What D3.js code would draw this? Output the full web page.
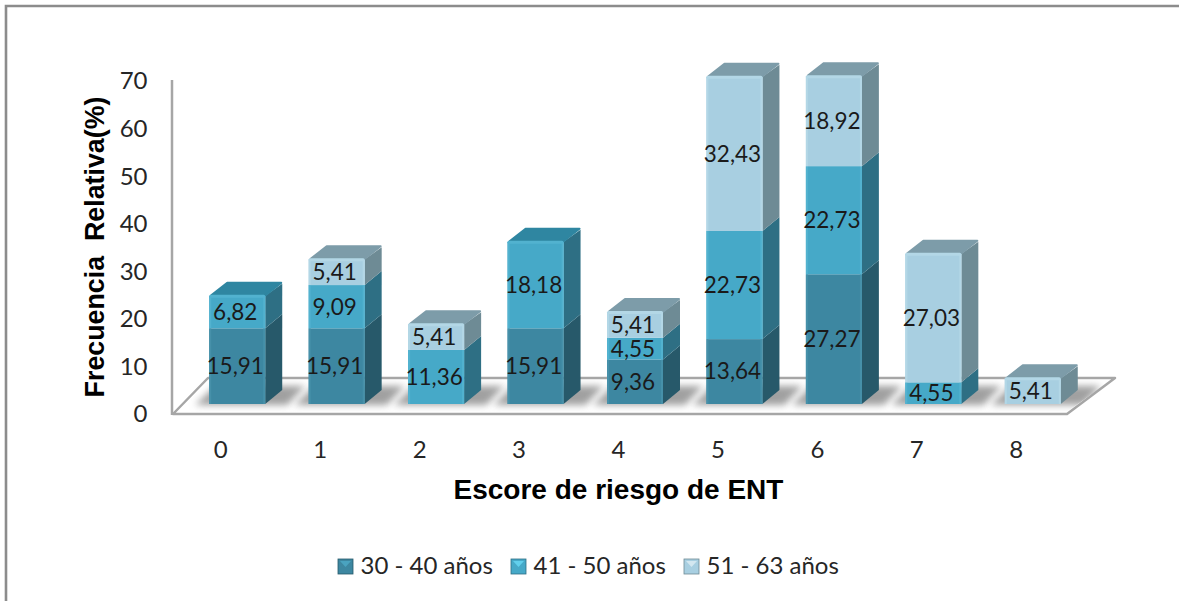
<!DOCTYPE html>
<html>
<head>
<meta charset="utf-8">
<script src="https://cdnjs.cloudflare.com/ajax/libs/d3/7.8.5/d3.min.js"></script>
<style>
html, body { margin: 0; padding: 0; background: #fff; overflow: hidden; }
svg { display: block; }
</style>
</head>
<body>
<svg id="chart" width="1179" height="601"></svg>
<script>
const categories = ['0', '1', '2', '3', '4', '5', '6', '7', '8'];
const yTicks = [0, 10, 20, 30, 40, 50, 60, 70];
const seriesNames = ['30 - 40 años', '41 - 50 años', '51 - 63 años'];
const group30 = [15.91, 15.91, 0, 15.91, 9.36, 13.64, 27.27, 0, 0];
const group41 = [6.82, 9.09, 11.36, 18.18, 4.55, 22.73, 22.73, 4.55, 0];
const group51 = [0, 5.41, 5.41, 0, 5.41, 32.43, 18.92, 27.03, 5.41];

const rows = categories.map((c, i) => ({
    cat: c,
    [seriesNames[0]]: group30[i],
    [seriesNames[1]]: group41[i],
    [seriesNames[2]]: group51[i]
}));

const colors = [
    { front: '#3d87a1', side: '#27596a', top: '#2f7a93', edge: '#4690a9', tri: '#4aa3c0' },
    { front: '#46a9c8', side: '#2e6f84', top: '#2f86a1', edge: '#52b2cf', tri: '#62cfec' },
    { front: '#a8cfe1', side: '#6e8b95', top: '#7d9ca9', edge: '#b3d7e6', tri: '#d3e7f0' }
];

const svg = d3.select('#chart');
const labelFont = 'Lato, sans-serif';
const titleFont = '"Liberation Sans", Arial, sans-serif';

// Front plane of the floor: the axes sit here, the bars stand further back
const x = d3.scaleBand().domain(categories).range([172, 1067]);
const y = d3.scaleLinear().domain([0, 70]).range([414, 81]);

const barWidth = 56, barShift = 15.5, liftY = 10;
const depthX = 17, depthY = 14;

const defs = svg.append('defs');
defs.append('filter').attr('id', 'blur')
    .attr('x', '-30%').attr('width', '160%').attr('y', '-40%').attr('height', '180%')
    .append('feGaussianBlur').attr('stdDeviation', 3.5);

// Outer frame
svg.append('path')
    .attr('d', 'M6,601V6H1179')
    .attr('fill', 'none')
    .attr('stroke', '#8c8c8c')
    .attr('stroke-width', 2.6);

// Floor
svg.append('path')
    .attr('d', 'M173,414L208,378H1115L1067,414Z')
    .attr('fill', '#fff')
    .attr('stroke', '#a6a6a6')
    .attr('stroke-width', 2.5)
    .attr('stroke-linejoin', 'round');

// Vertical axis
svg.append('line')
    .attr('x1', 172).attr('x2', 172)
    .attr('y1', y(70) - 1).attr('y2', y(0) + 1)
    .attr('stroke', '#a6a6a6')
    .attr('stroke-width', 2.5);

const floorClip = defs.append('clipPath').attr('id', 'floor-clip');
floorClip.append('path').attr('d', 'M176,412.5L209,379.5H1112L1066,412.5Z');

// Bar shadows on the floor
svg.append('g')
    .attr('clip-path', 'url(#floor-clip)')
    .selectAll('path')
    .data(categories)
    .join('path')
    .attr('d', c => {
        const left = x(c) + x.bandwidth() / 2 + barShift - barWidth / 2;
        return `M${left - 14},${y(0) - liftY + 1}L${left + 6},${y(0) - liftY - 18}` +
            `H${left + barWidth + 40}L${left + barWidth + 22},${y(0) - liftY + 1}Z`;
    })
    .attr('fill', '#a0a0a0')
    .attr('filter', 'url(#blur)');

const stack = d3.stack().keys(seriesNames)(rows);

// Bars
categories.forEach((c, i) => {
    const left = x(c) + x.bandwidth() / 2 + barShift - barWidth / 2;
    const right = left + barWidth;
    const g = svg.append('g');
    const segments = stack
        .map((s, k) => ({ k, y0: s[i][0], y1: s[i][1] }))
        .filter(d => d.y1 > d.y0);

    segments.forEach((d, n) => {
        const yBot = y(d.y0) - liftY;
        const yTop = y(d.y1) - liftY;
        const col = colors[d.k];
        const last = n === segments.length - 1;

        g.append('path')
            .attr('d', `M${right},${yBot}L${right + depthX},${yBot - depthY}V${yTop - depthY + (last ? 2 : 0)}L${right},${yTop}Z`)
            .attr('fill', col.side);

        g.append('rect')
            .attr('x', left).attr('y', yTop)
            .attr('width', barWidth).attr('height', yBot - yTop)
            .attr('fill', col.front);

        // lighter bevel along the front edges
        g.append('path')
            .attr('d', `M${left + 1},${yBot}V${yTop}M${right - 1},${yBot}V${yTop}`)
            .attr('stroke', col.edge)
            .attr('stroke-width', 2)
            .attr('fill', 'none');

        if (last) {
            // inset polygon with a thick round stroke gives the soft corners
            g.append('path')
                .attr('d', `M${left + 2},${yTop - 0.5}L${left + depthX + 1},${yTop - depthY + 1}H${right + depthX - 1}L${right},${yTop - 0.5}Z`)
                .attr('fill', col.top)
                .attr('stroke', col.top)
                .attr('stroke-width', 2)
                .attr('stroke-linejoin', 'round');
            g.append('rect')
                .attr('x', left).attr('y', yTop - 1)
                .attr('width', barWidth).attr('height', 3).attr('rx', 1.5)
                .attr('fill', col.edge);
        }
    });
});

// Value labels
stack.forEach(s => {
    svg.append('g')
        .selectAll('text')
        .data(s.filter(d => d[1] > d[0]).map(d => ({ v: d[1] - d[0], y0: d[0], y1: d[1], cat: d.data.cat })))
        .join('text')
        .attr('x', d => x(d.cat) + x.bandwidth() / 2 + barShift - 2)
        .attr('y', d => y((d.y0 + d.y1) / 2) - liftY)
        .attr('dy', '0.35em')
        .attr('text-anchor', 'middle')
        .attr('font-family', labelFont)
        .attr('font-size', 22.5)
        .attr('fill', '#1a1a1a')
        .text(d => d.v.toFixed(2).replace('.', ','));
});

// Tick labels
svg.append('g')
    .selectAll('text')
    .data(yTicks)
    .join('text')
    .attr('x', 147.5)
    .attr('y', d => y(d))
    .attr('dy', '0.35em')
    .attr('text-anchor', 'end')
    .attr('font-family', labelFont)
    .attr('font-size', 24)
    .attr('fill', '#262626')
    .text(d => d);

svg.append('g')
    .selectAll('text')
    .data(categories)
    .join('text')
    .attr('x', d => x(d) + x.bandwidth() / 2 - 1)
    .attr('y', 450)
    .attr('dy', '0.35em')
    .attr('text-anchor', 'middle')
    .attr('font-family', labelFont)
    .attr('font-size', 24)
    .attr('fill', '#262626')
    .text(d => d);

// Axis titles
svg.append('text')
    .attr('x', 618.5)
    .attr('y', 489)
    .attr('dy', '0.35em')
    .attr('text-anchor', 'middle')
    .attr('font-family', titleFont)
    .attr('font-weight', 'bold')
    .attr('font-size', 28)
    .attr('fill', '#000')
    .text('Escore de riesgo de ENT');

svg.append('text')
    .attr('transform', 'translate(95,247) rotate(-90)')
    .attr('dy', '0.35em')
    .attr('text-anchor', 'middle')
    .attr('font-family', titleFont)
    .attr('font-weight', 'bold')
    .attr('font-size', 26.8)
    .attr('fill', '#000')
    .attr('xml:space', 'preserve')
    .style('white-space', 'pre')
    .text('Frecuencia  Relativa(%)');

// Legend
const legendX = [338, 511, 684];
const legend = svg.append('g')
    .selectAll('g')
    .data(seriesNames)
    .join('g')
    .attr('transform', (d, i) => `translate(${legendX[i]},559)`);

legend.append('rect')
    .attr('width', 15).attr('height', 15)
    .attr('fill', (d, i) => colors[i].front)
    .attr('stroke', (d, i) => colors[i].side)
    .attr('stroke-width', 0.8);

legend.append('path')
    .attr('d', 'M2,2H13L7.5,8Z')
    .attr('fill', (d, i) => colors[i].tri);

legend.append('text')
    .attr('x', 22.5)
    .attr('y', 6.5)
    .attr('dy', '0.35em')
    .attr('font-family', labelFont)
    .attr('font-size', 24)
    .attr('fill', '#262626')
    .text(d => d);
</script>
</body>
</html>
